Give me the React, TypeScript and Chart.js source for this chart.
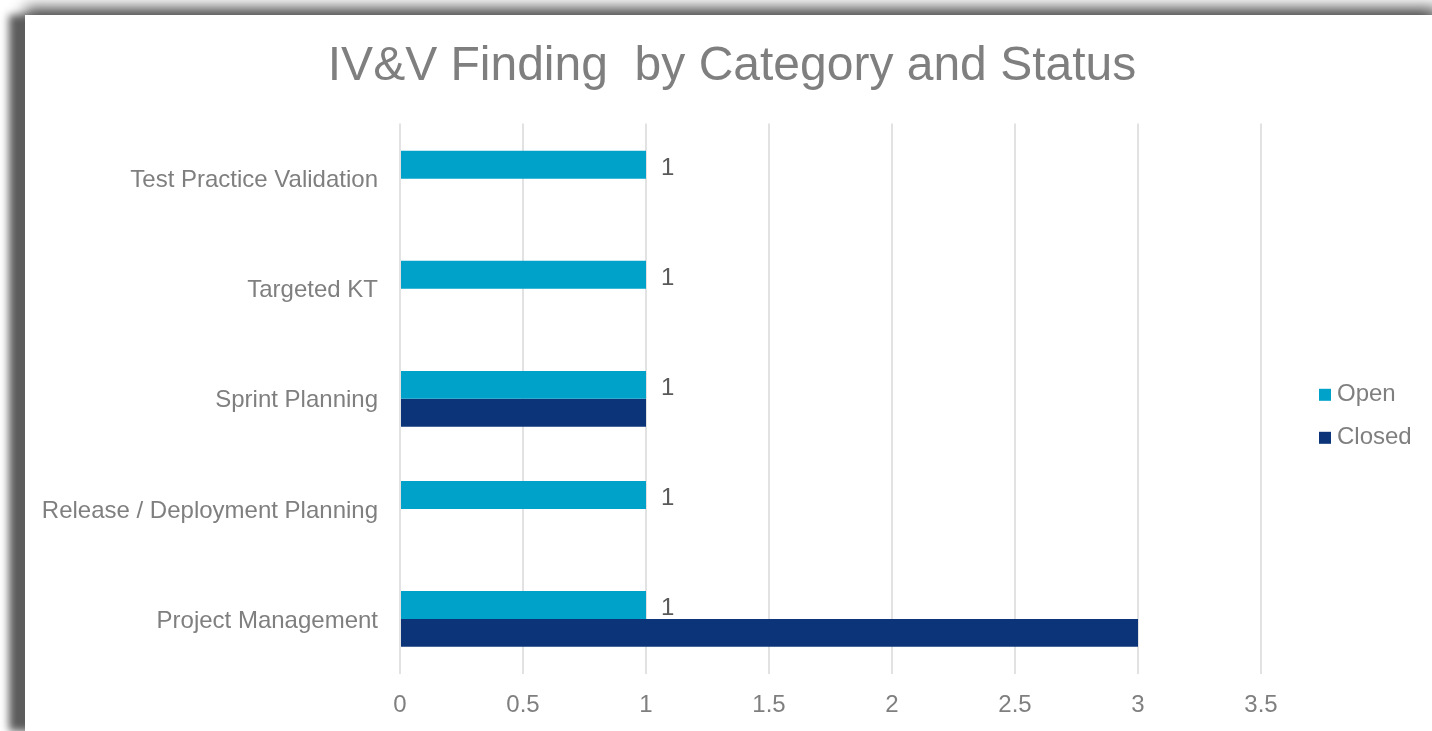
import React, { useEffect, useRef } from "react";
import { Chart, registerables } from "chart.js";

Chart.register(...registerables);

const titleText = "IV&V Finding  by Category and Status";
const categories = [
  "Test Practice Validation",
  "Targeted KT",
  "Sprint Planning",
  "Release / Deployment Planning",
  "Project Management",
];
const openValues = [1, 1, 1, 1, 1];
const closedValues: (number | null)[] = [null, null, 1, null, 3];
const seriesNames = ["Open", "Closed"];
const seriesColors = ["#00A2CA", "#0B3578"];
const xMin = 0;
const xMax = 3.5;
const xStep = 0.5;

const FONT = "'Liberation Sans', Arial, sans-serif";
const GRAY = "#7f7f7f";

const dataLabelPlugin = {
  id: "openLabels",
  afterDatasetsDraw(chart: any) {
    const ctx = chart.ctx;
    const meta = chart.getDatasetMeta(0);
    ctx.save();
    ctx.font = `24px ${FONT}`;
    ctx.fillStyle = "#595959";
    ctx.textAlign = "left";
    ctx.textBaseline = "alphabetic";
    meta.data.forEach((bar: any, i: number) => {
      const v = openValues[i];
      if (v == null) return;
      ctx.fillText(String(v), bar.x + 15, bar.y + 10);
    });
    ctx.restore();
  },
};

const legendPlugin = {
  id: "sideLegend",
  afterDraw(chart: any) {
    const ctx = chart.ctx;
    ctx.save();
    ctx.font = `24px ${FONT}`;
    ctx.textAlign = "left";
    ctx.textBaseline = "middle";
    const x0 = chart.chartArea.right + 58;
    const yCenter = (chart.chartArea.top + chart.chartArea.bottom) / 2;
    const y0 = yCenter - 4;
    const gap = 43;
    seriesNames.forEach((name, i) => {
      const y = y0 + i * gap;
      ctx.fillStyle = seriesColors[i];
      ctx.fillRect(x0, y - 6, 12, 12);
      ctx.fillStyle = GRAY;
      ctx.fillText(name, x0 + 18, y);
    });
    ctx.restore();
  },
};

export default function App() {
  const canvasRef = useRef<HTMLCanvasElement | null>(null);

  useEffect(() => {
    if (!canvasRef.current) return;
    const chart = new Chart(canvasRef.current, {
      type: "bar",
      data: {
        labels: categories,
        datasets: [
          {
            label: seriesNames[0],
            data: openValues,
            backgroundColor: seriesColors[0],
            borderWidth: 0,
            categoryPercentage: 0.507,
            barPercentage: 1,
          },
          {
            label: seriesNames[1],
            data: closedValues,
            backgroundColor: seriesColors[1],
            borderWidth: 0,
            categoryPercentage: 0.507,
            barPercentage: 1,
          },
        ],
      },
      options: {
        indexAxis: "y",
        responsive: false,
        animation: false,
        devicePixelRatio: 1,
        layout: { padding: 0 },
        plugins: {
          legend: { display: false },
          tooltip: { enabled: false },
          title: {
            display: true,
            text: titleText,
            color: GRAY,
            font: { family: FONT, size: 48, weight: "normal" },
            padding: { top: 23, bottom: 28 },
          },
        },
        scales: {
          x: {
            type: "linear",
            position: "bottom",
            min: xMin,
            max: xMax,
            ticks: {
              stepSize: xStep,
              color: GRAY,
              font: { family: FONT, size: 24 },
              padding: 17,
              maxRotation: 0,
              callback: (v: any) => String(Number(v)),
            },
            grid: {
              color: "#e2e2e2",
              lineWidth: 2,
              drawTicks: false,
            },
            border: { display: false },
            afterFit: (s: any) => {
              s.height = 57;
            },
          },
          y: {
            type: "category",
            position: "left",
            ticks: {
              color: GRAY,
              font: { family: FONT, size: 24 },
              padding: 22,
              labelOffset: 2,
            },
            grid: { display: false, drawTicks: false },
            border: { display: false },
            afterFit: (s: any) => {
              s.width = 375;
            },
          },
          yr: {
            type: "category",
            axis: "y",
            position: "right",
            labels: categories,
            ticks: { display: false },
            grid: { display: false, drawTicks: false },
            border: { display: false },
            afterFit: (s: any) => {
              s.width = 178;
            },
          },
        },
      } as any,
      plugins: [dataLabelPlugin, legendPlugin],
    });
    return () => chart.destroy();
  }, []);

  return (
    <div
      style={{
        position: "fixed",
        left: 0,
        top: 0,
        width: 1432,
        height: 731,
        background: "#ffffff",
        overflow: "hidden",
      }}
    >
      <div
        style={{
          position: "absolute",
          left: 25,
          top: 15,
          width: 1414,
          height: 716,
          background: "#ffffff",
          boxShadow: "-16px 0px 8px #5c5c5c, 0px -8px 14px #5c5c5c",
        }}
      >
        <canvas
          ref={canvasRef}
          width={1414}
          height={716}
          style={{ display: "block", width: 1414, height: 716 }}
        />
      </div>
    </div>
  );
}
